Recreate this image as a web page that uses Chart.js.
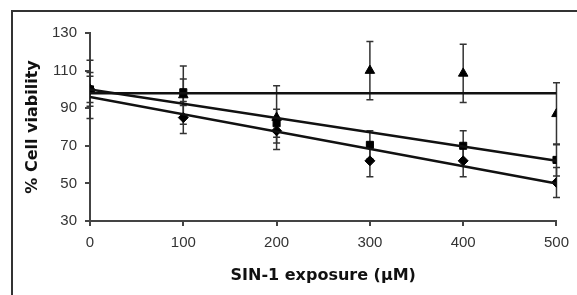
<!DOCTYPE html>
<html>
<head>
<meta charset="utf-8">
<script src="https://cdn.jsdelivr.net/npm/chart.js@4"></script>
<style>
  html, body { margin: 0; padding: 0; background: #fff; overflow: hidden; }
  #wrap { position: relative; width: 577px; height: 295px; overflow: hidden; }
  #frame { position: absolute; left: 11px; top: 10px; width: 640px; height: 400px; border: 2px solid #333; box-sizing: border-box; }
  canvas { position: absolute; left: 0; top: 0; }
</style>
</head>
<body>
<div id="wrap">
  <div id="frame"></div>
  <canvas id="chart" width="577" height="295"></canvas>
</div>
<script>
// =============================
// Data
// =============================
const doses = [0, 100, 200, 300, 400, 500];

const diamondVals = [100, 85, 78, 62, 62, 50.5];
const diamondErr  = [7, 8.5, 6.5, 8.5, 8.5, 8];

const squareVals = [100, 98.5, 82, 70.5, 70, 62.5];
const squareErr  = [9, 7, 7.5, 7.5, 8, 8.5];

const triangleVals = [100, 97, 85, 110, 108.5, 87];
const triangleErr  = [15.5, 15.5, 17, 15.5, 15.5, 16.5];

// trend lines (value at dose 0 and dose 500)
const trendX = [0, 500];
const squareTrend = [100, 62];
const diamondTrend = [96, 50];
const triangleTrend = [98, 98];

const xTicks = [0, 100, 200, 300, 400, 500];
const yTicks = [30, 50, 70, 90, 110, 130];

const toPoints = (xs, ys) => xs.map((x, i) => ({ x: x, y: ys[i] }));

// =============================
// Error bar plugin
// =============================
const errorBars = {
  id: "errorBars",
  beforeDatasetsDraw(chart) {
    const ctx = chart.ctx;
    const xs = chart.scales.x;
    const ys = chart.scales.y;
    ctx.save();
    ctx.strokeStyle = "#333";
    ctx.lineWidth = 1.5;
    chart.data.datasets.forEach(ds => {
      if (!ds.errors) return;
      ds.data.forEach((p, i) => {
        const e = ds.errors[i];
        const px = xs.getPixelForValue(p.x);
        const top = ys.getPixelForValue(p.y + e);
        const bot = ys.getPixelForValue(p.y - e);
        ctx.beginPath();
        ctx.moveTo(px, top);
        ctx.lineTo(px, bot);
        ctx.moveTo(px - 3.5, top);
        ctx.lineTo(px + 3.5, top);
        ctx.moveTo(px - 3.5, bot);
        ctx.lineTo(px + 3.5, bot);
        ctx.stroke();
      });
    });
    ctx.restore();
  }
};

const tickFont = { family: "'Liberation Sans', Arial, sans-serif", size: 15 };
const titleFont = { family: "'DejaVu Sans', sans-serif", size: 16, weight: "bold" };

const fitLine = (label, vals) => ({
  label: label,
  data: toPoints(trendX, vals),
  showLine: true,
  borderColor: "#111",
  borderWidth: 2.5,
  pointRadius: 0
});

new Chart(document.getElementById("chart"), {
  type: "scatter",
  data: {
    datasets: [
      fitLine("fit square", squareTrend),
      fitLine("fit diamond", diamondTrend),
      fitLine("fit triangle", triangleTrend),
      {
        label: "diamond",
        data: toPoints(doses, diamondVals),
        errors: diamondErr,
        pointStyle: "rectRot",
        pointRadius: 5,
        backgroundColor: "#000",
        borderColor: "#000"
      },
      {
        label: "square",
        data: toPoints(doses, squareVals),
        errors: squareErr,
        pointStyle: "rect",
        pointRadius: 5,
        backgroundColor: "#000",
        borderColor: "#000"
      },
      {
        label: "triangle",
        data: toPoints(doses, triangleVals),
        errors: triangleErr,
        pointStyle: "triangle",
        pointRadius: 5.5,
        backgroundColor: "#000",
        borderColor: "#000"
      }
    ]
  },
  options: {
    responsive: false,
    animation: false,
    layout: { padding: { left: 20, top: 33, right: 17, bottom: 5 } },
    plugins: {
      legend: { display: false },
      tooltip: { enabled: false }
    },
    scales: {
      x: {
        type: "linear",
        min: 0,
        max: 500,
        afterFit: s => { s.height = 69; },
        afterBuildTicks: s => { s.ticks = xTicks.map(v => ({ value: v })); },
        grid: { drawOnChartArea: false, drawTicks: true, tickLength: 5, color: "#444", lineWidth: 2 },
        border: { color: "#444", width: 2 },
        ticks: { font: tickFont, color: "#333", padding: 8, maxRotation: 0 },
        title: { display: true, text: "SIN-1 exposure (µM)", font: titleFont, color: "#111", padding: { top: 0, bottom: 5 } }
      },
      y: {
        min: 30,
        max: 130,
        afterFit: s => { s.width = 70; },
        afterBuildTicks: s => { s.ticks = yTicks.map(v => ({ value: v })); },
        grid: { drawOnChartArea: false, drawTicks: true, tickLength: 5, color: "#444", lineWidth: 2 },
        border: { color: "#444", width: 2 },
        ticks: { font: tickFont, color: "#333", padding: 8 },
        title: { display: true, text: "% Cell viability", font: titleFont, color: "#111", padding: { top: 3, bottom: 0 } }
      }
    }
  },
  plugins: [errorBars]
});
</script>
</body>
</html>
